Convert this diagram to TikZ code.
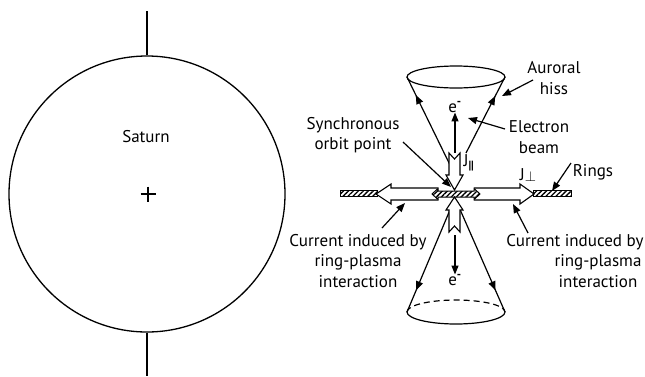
\documentclass[tikz,border=0pt]{standalone}
\usepackage{fontspec}
\setmainfont{PT Sans}
\usetikzlibrary{arrows.meta,patterns.meta,decorations.markings}

\begin{document}
\begin{tikzpicture}[x=1pt, y=-1pt,
    lbl/.style={inner sep=0pt, align=center, font=\fontsize{17}{20.5}\selectfont},
    pointer/.style={line width=1.2pt, -{Triangle[length=9pt,width=7pt]}},
    hollow/.style={draw, line width=1.1pt, fill=white, line join=miter},
    ringbar/.style={draw, line width=1pt, preaction={fill=white},
      pattern={Lines[angle=45,distance=3.5pt,line width=1.3pt]}},
    coneline/.style={line width=1.2pt, postaction={decorate},
      decoration={markings, mark=at position #1 with {\arrow{Triangle[length=9pt,width=7pt]}}}}
]
  \useasboundingbox (0,0) rectangle (645,376);

  % Saturn
  \node[circle, draw, line width=1.3pt, minimum size=276pt, inner sep=0pt] (saturn) at (147,194) {};
  \coordinate (axTop) at (147,11);
  \coordinate (axBot) at (147,376);
  \draw[line width=1.3pt] (saturn.north) -- (axTop);
  \draw[line width=1.3pt] (saturn.south) -- (axBot);
  \draw[line width=1.2pt] (140.5,194) -- (155.5,194) (148,186.5) -- (148,201.5);
  \node[lbl] (satlbl) at (146,137) {Saturn};

  % cones
  \coordinate (apexT) at (451,167);
  \coordinate (jTop)  at (466,153);
  \coordinate (rimTL) at (407,77);
  \coordinate (rimTR) at (505,77);
  \coordinate (apexB) at (455,198);
  \coordinate (rimBL) at (407,312);
  \coordinate (rimBR) at (505,312);
  \draw[line width=1.2pt] (456,77) ellipse[x radius=49, y radius=11];
  \draw[coneline=0.8] (apexT) -- (rimTL);
  \draw[coneline=0.75] (jTop) -- (rimTR);
  \draw[line width=1.2pt] (rimBL) arc[start angle=180, end angle=0, x radius=49, y radius=12];
  \draw[line width=1.2pt, dash pattern=on 6pt off 4pt] (rimBL) arc[start angle=180, end angle=360, x radius=49, y radius=12];
  \draw[coneline=0.81] (apexB) -- (rimBL);
  \draw[coneline=0.81] (apexB) -- (rimBR);

  % rings and currents
  \draw[ringbar] (340,190.5) rectangle (377,196.5);
  \draw[ringbar] (533,190.5) rectangle (571,196.5);
  \draw[hollow] (438,188) -- (391,188) -- (391,184) -- (376,194) -- (391,204) -- (391,200) -- (438,200);
  \draw[hollow] (474,188) -- (520,188) -- (520,184) -- (534,194) -- (520,204) -- (520,200) -- (474,200);
  \draw[ringbar] (432,194) -- (438,188.5) -- (438,191) -- (474,191) -- (474,188.5) -- (480,194)
    -- (474,199.5) -- (474,197) -- (438,197) -- (438,199.5) -- cycle;
  \draw[hollow] (449,153) -- (454.5,159) -- (460,153) -- (460,175) -- (463,175) -- (454.5,190)
    -- (446,175) -- (449,175) -- cycle;
  \draw[hollow] (449,232) -- (454.5,226) -- (460,232) -- (460,210) -- (463,210) -- (454.5,197)
    -- (446,210) -- (449,210) -- cycle;

  % electrons
  \node[lbl] (etop) at (455,107) {e\textsuperscript{\textbf{-}}};
  \node[lbl] (ebot) at (455,280) {e\textsuperscript{\textbf{-}}};
  \coordinate (beamT) at (455,153);
  \coordinate (beamB) at (455,235);
  \draw[pointer] (beamT) -- (etop.south);
  \draw[pointer] (beamB) -- (ebot.north);

  \node[lbl] (jpar)  at (469,163) {J\textsubscript{\textbf{||}}};
  \node[lbl] (jperp) at (528,175) {J\raisebox{-1.5pt}{\fontsize{14}{14}\selectfont$\perp$}};

  % labels
  \node[lbl] (sync)  at (353,135) {Synchronous\\orbit point};
  \node[lbl] (hiss)  at (554,78)  {Auroral\\hiss};
  \node[lbl] (beam)  at (539,137) {Electron\\beam};
  \node[lbl] (rings) at (593,172) {Rings};
  \node[lbl] (curL)  at (358,261) {Current induced by\\ring-plasma\\interaction};
  \node[lbl] (curR)  at (598,261) {\hspace*{-46pt}Current induced by\\ring-plasma\\interaction};

  % pointers
  \coordinate (syncT) at (403,142);  \coordinate (syncH) at (451,187);
  \coordinate (hissT) at (533,80);   \coordinate (hissH) at (502,96);
  \coordinate (beamP) at (505,129);  \coordinate (beamH) at (468,118);
  \coordinate (ringT) at (571,163);  \coordinate (ringH) at (552,191);
  \coordinate (curLT) at (382,228);  \coordinate (curLH) at (405,203);
  \coordinate (curRT) at (528,233);  \coordinate (curRH) at (513,204);
  \draw[pointer] (syncT) -- (syncH);
  \draw[pointer] (hissT) -- (hissH);
  \draw[pointer] (beamP) -- (beamH);
  \draw[pointer] (ringT) -- (ringH);
  \draw[pointer] (curLT) -- (curLH);
  \draw[pointer] (curRT) -- (curRH);
\end{tikzpicture}
\end{document}
